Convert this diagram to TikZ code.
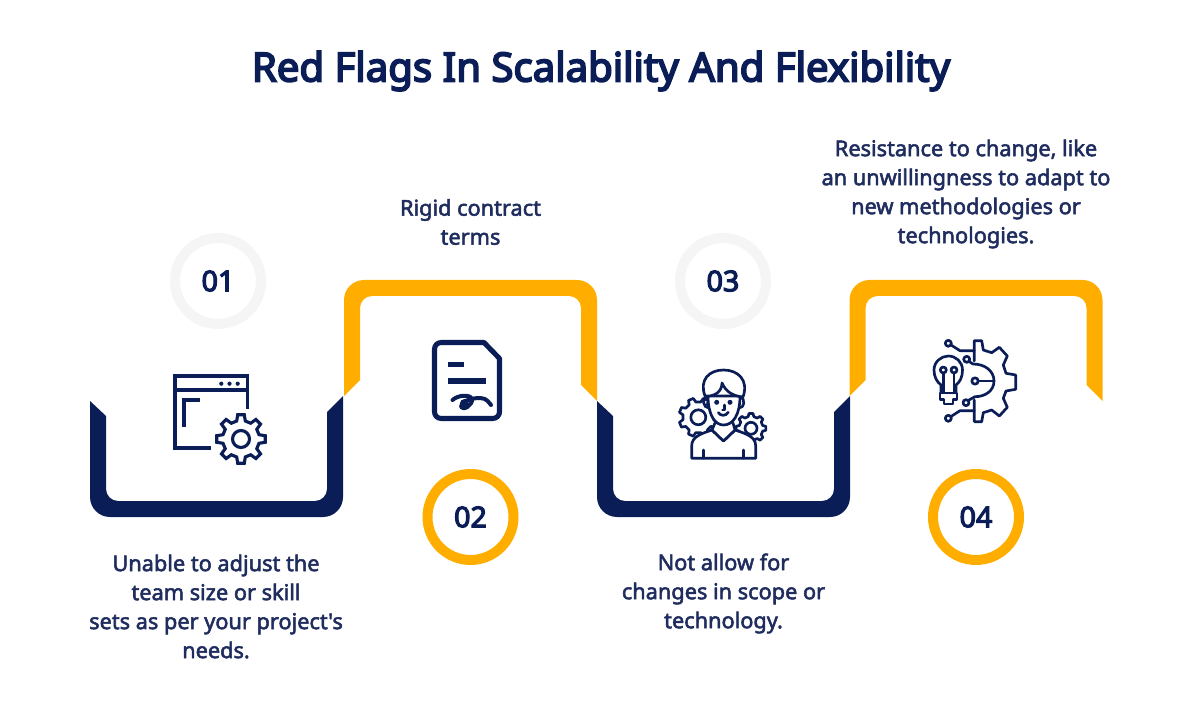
\documentclass[tikz,border=0pt]{standalone}
\usepackage{fontspec}
\setmainfont{Noto Sans}
\newfontfamily\titlefont[FakeBold=4.4]{Noto Sans}
\newfontfamily\numfont[FakeBold=4]{Noto Sans}
\newfontfamily\bodyfont[FakeBold=2.4]{Noto Sans}
\definecolor{navy}{HTML}{0A1D56}
\definecolor{bodyc}{HTML}{1F2C5E}
\definecolor{gold}{HTML}{FFAE00}
\definecolor{pale}{HTML}{F5F5F5}
\tikzset{
  iconthick/.style={draw=navy,line width=3.8pt,line join=round,line cap=butt},
  iconmid/.style={draw=navy,line width=2.35pt,line join=miter,line cap=butt},
  iconthin/.style={draw=navy,line width=2.0pt,line join=round,line cap=round},
  label/.style={font=\bodyfont\fontsize{16.3pt}{21.75pt}\selectfont,text=bodyc,align=center,inner sep=0pt},
  numlabel/.style={font=\numfont\fontsize{21.5pt}{25pt}\selectfont,text=navy,inner sep=0pt},
  ringg/.style={circle,draw=gold,line width=7.5pt,minimum size=64.5pt,inner sep=0pt,fill=white,numlabel},
  ringp/.style={circle,draw=pale,line width=7.5pt,minimum size=64.5pt,inner sep=0pt,fill=white,numlabel}
}
\newcommand{\cogwheel}[7]{% cx cy outer root teeth rotation style
  \begin{scope}[shift={(#1,#2)}]
  \pgfmathsetmacro{\stp}{360/#5}
  \draw[#7,fill=white] ({#6-0.30*\stp}:#4)
    \foreach \k in {1,...,#5}{
      -- ({#6+(\k-1)*\stp-0.17*\stp}:#3)
      -- ({#6+(\k-1)*\stp+0.17*\stp}:#3)
      -- ({#6+(\k-1)*\stp+0.30*\stp}:#4)
      -- ({#6+\k*\stp-0.30*\stp}:#4)
    } -- cycle;
  \end{scope}
}
\newcommand{\ribbondown}[2]{% dx, colour
  \begin{scope}[shift={(#1,0)}]
  \fill[#2] [rounded corners=15pt] (90,401) -- (90,517) -- (343,517) -- (343,450) [sharp corners] -- (343,396) -- (327,412) [rounded corners=9pt] -- (327,501) -- (106,501) -- (106,450) [sharp corners] -- (106,416) -- cycle;
  \end{scope}
}
\newcommand{\ribbonup}[2]{% dx, colour
  \begin{scope}[shift={(#1,0)}]
  \fill[#2] [rounded corners=15pt] (344,396) -- (344,280) -- (597,280) -- (597,340) [sharp corners] -- (597,401) -- (581,385) [rounded corners=9pt] -- (581,296) -- (360,296) -- (360,340) [sharp corners] -- (360,380) -- cycle;
  \end{scope}
}
\begin{document}
\begin{tikzpicture}[x=0.75pt,y=-0.75pt]
\useasboundingbox (0,0) rectangle (1200,720);
\fill[white] (0,0) rectangle (1200,720);

\node[font=\titlefont\fontsize{30.1pt}{36pt}\selectfont,text=navy,inner sep=0pt] (title) at (601,71) {Red Flags In Scalability And Flexibility};

\ribbondown{0}{navy}
\ribbondown{507}{navy}
\ribbonup{0}{gold}
\ribbonup{505.5}{gold}

\node[ringp] (n1) at (218,281) {01};
\node[ringg] (n2) at (470.5,517) {02};
\node[ringp] (n3) at (723,281) {03};
\node[ringg] (n4) at (976,517) {04};

\node[label] (t1) at (216,606.5) {Unable to adjust the\\team size or skill\\sets as per your project's\\needs.};
\node[label] (t2) at (470.5,222) {Rigid contract\\terms};
\node[label] (t3) at (723.5,593.5) {Not allow for\\changes in scope or\\technology.};
\node[label] (t4) at (966,194) {Resistance to change, like\\an unwillingness to adapt to\\new methodologies or\\technologies.};

% icon 1
\draw[iconmid] (211,448) -- (175,448) -- (175,376) -- (247.5,376) -- (247.5,409);
\draw[iconmid] (175,390) -- (247.5,390);
\draw[iconmid] (200,400) -- (184,400) -- (184,427);
\foreach \px in {221.3,229.5,237.7} \fill[navy] (\px,383.7) circle[radius=2.1];
\cogwheel{241}{439}{24.5}{18.5}{8}{0}{iconmid}
\draw[iconmid] (241,439) circle[radius=8.5];

% icon 2
\draw[iconthick,rounded corners=5pt] (484,342.5) -- (434.5,342.5) -- (434.5,418.5) -- (499.5,418.5) -- (499.5,370) [sharp corners] -- (499.5,358.5) -- (484,342.5) -- cycle;
\draw[iconthick] (448,364.3) -- (464,364.3);
\draw[iconthick] (448,381) -- (486,381);
\draw[navy,line width=3pt,line cap=round,line join=round] (452.5,400) .. controls (458,395) and (470,394) .. (472,399) .. controls (473,405) and (463,411) .. (461,407) .. controls (460,402) and (470,398) .. (480,398) .. controls (487,398) and (489,403) .. (491,405);
\fill[navy] (464.5,403.5) circle[radius=4.5];

% icon 3
\cogwheel{698.3}{417.3}{19.5}{15.5}{8}{22.5}{iconthin}
\draw[iconthin] (698.3,417.3) circle[radius=7.5];
\cogwheel{751}{428.3}{15}{12}{8}{0}{iconthin}
\draw[iconthin] (751,428.3) circle[radius=6];
\draw[iconthin,fill=white] (691.7,458.3) -- (691.7,446) .. controls (691.7,437) and (700,434) .. (712,430) -- (723.5,441) -- (735,430) .. controls (747,434) and (755.7,437) .. (755.7,446) -- (755.7,458.3) -- cycle;
\draw[iconthin] (703.5,450) -- (703.5,458);
\draw[iconthin] (743.5,450) -- (743.5,458);
\draw[iconthin,fill=white] (715,423) -- (712,430) -- (723.5,441) -- (735,430) -- (733,423);
\draw[iconthin,fill=white] (708,396) .. controls (708,415) and (715,425) .. (723.5,425) .. controls (733,425) and (740,415) .. (740,396) -- cycle;
\draw[iconthin,fill=white] (705,396) .. controls (699,380) and (709,370) .. (723.5,370) .. controls (738,370) and (749,380) .. (743,397) .. controls (733,396) and (726,392) .. (722,383) .. controls (722,392) and (714,397) .. (705,396) -- cycle;
\draw[iconthin] (706,397) .. controls (702,399) and (703,408) .. (709,408);
\draw[iconthin] (741,397) .. controls (745,399) and (745,408) .. (739,408);
\fill[navy] (716.7,402.3) circle[radius=2.5];
\fill[navy] (730,402.3) circle[radius=2.5];
\draw[iconthin] (724.3,405) -- (724.3,410) -- (722.5,410);
\draw[iconthin] (718.3,412.5) .. controls (720,416) and (726,416.5) .. (728.3,412.3);

% icon 4
\draw[iconthin] (974.3,361) -- (974.3,340.7) -- (981.7,340.7) -- (983.3,350) -- (991.7,352.7) -- (999.3,347.3) -- (1007.3,356) -- (1003.3,365) -- (1006,373.3) -- (1015.7,375) -- (1015.7,389.3) -- (1006,391) -- (1003.3,398.3) -- (1007.3,407.3) -- (999.3,416) -- (991.7,410) -- (983.3,412.7) -- (981.7,421.7) -- (974.3,421.7) -- (974.3,400);
\draw[iconthin] (969,361.5) -- (973,364) .. controls (985,364) and (994,371) .. (994,381) .. controls (994,391) and (985,396.7) .. (975,396.7) -- (969,400);
\draw[iconthin] (948.3,343.3) circle[radius=3];
\draw[iconthin] (951,345) -- (960,350.7) -- (974.3,350.7);
\draw[iconthin] (966.7,359.3) circle[radius=3];
\draw[iconthin] (975,381) circle[radius=3.2];
\draw[iconthin] (978.2,381) -- (994,381);
\draw[iconthin] (966,402.7) circle[radius=3];
\draw[iconthin] (948.3,418.3) circle[radius=3];
\draw[iconthin] (951,416.5) -- (960,410.7) -- (974.3,410.7);
\draw[iconthin] (941,392) -- (941,385) .. controls (937,382) and (934,377) .. (934,370) .. controls (934,362) and (941,356) .. (948.3,356) .. controls (956,356) and (962.5,362) .. (962.5,370) .. controls (962.5,377) and (960,382) .. (956,385) -- (956,392);
\draw[iconthin] (940,393) -- (957,393) -- (957,399.5) -- (953,399.5) -- (953,404) -- (944,404) -- (944,399.5) -- (940,399.5) -- cycle;
\draw[iconthin] (943.3,370) circle[radius=3];
\draw[iconthin] (954,370) circle[radius=3];
\draw[iconthin] (943.3,373) -- (943.3,392);
\draw[iconthin] (954,373) -- (954,392);
\end{tikzpicture}
\end{document}
